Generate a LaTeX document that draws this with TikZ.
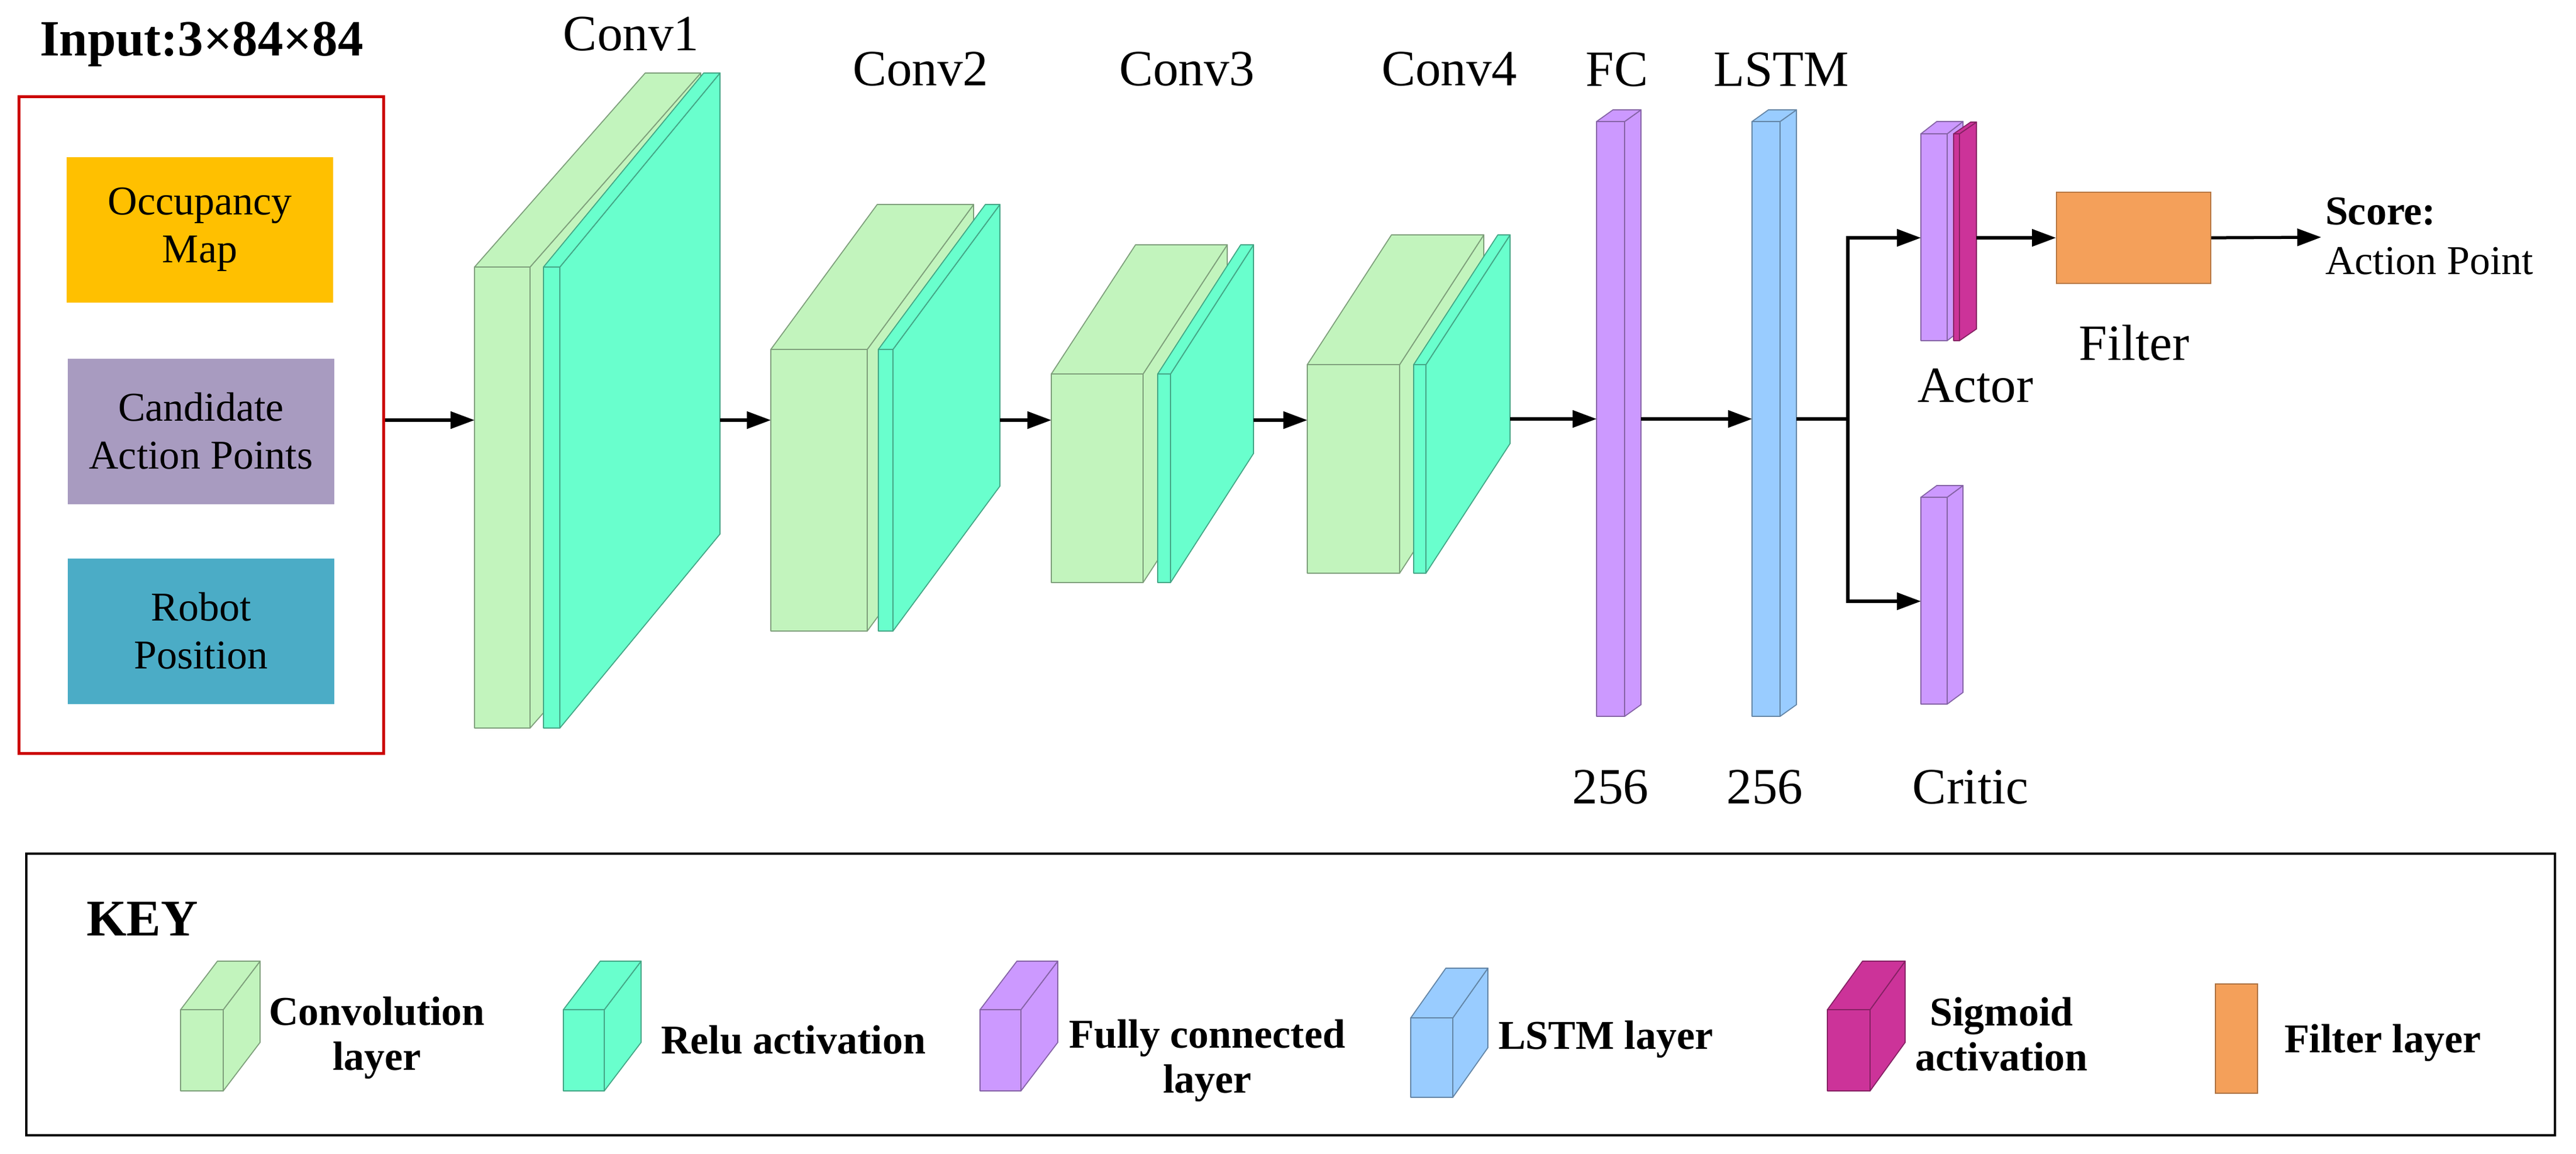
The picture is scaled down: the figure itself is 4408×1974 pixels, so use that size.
\documentclass[tikz,border=0pt]{standalone}
\usepackage{fontspec}
\setmainfont{Liberation Serif}
\usetikzlibrary{arrows.meta}
\definecolor{convg}{RGB}{194,244,189}
\definecolor{relug}{RGB}{105,255,205}
\definecolor{fcp}{RGB}{204,153,255}
\definecolor{lstmb}{RGB}{153,204,255}
\definecolor{sigm}{RGB}{204,51,153}
\definecolor{filto}{RGB}{244,160,90}
\definecolor{occy}{RGB}{255,192,0}
\definecolor{candp}{RGB}{168,155,192}
\definecolor{robb}{RGB}{75,172,198}
\definecolor{inred}{RGB}{204,0,0}
\tikzset{
  cubeface/.style={fill=#1, draw=#1!65!black, line width=0.35pt, line join=round},
  arr/.style={line width=1.05pt, -{Triangle[length=8.2pt,width=5.8pt]}},
  plainline/.style={line width=1.05pt},
  lbl/.style={font=\fontsize{17.4}{20}\selectfont, inner sep=0pt},
  keytxt/.style={font=\fontsize{14}{15.5}\selectfont\bfseries, align=center, inner sep=0pt},
  inbox/.style={minimum width=91.2pt, minimum height=49.8pt, inner sep=0pt, align=center,
     font=\fontsize{14}{16.4}\selectfont},
}
% name, x, y (front top-left), w, h, dx, dy, colour
\newcommand{\cubo}[8]{%
  \draw[cubeface=#8] (#2+#4,#3) -- ++(#6,-#7) -- ++(0,#5) -- ++(-#6,#7) -- cycle;
  \draw[cubeface=#8] (#2,#3) -- ++(#6,-#7) -- ++(#4,0) -- ++(-#6,#7) -- cycle;
  \draw[cubeface=#8] (#2,#3) rectangle ++(#4,#5);
  \coordinate (#1-w) at (#2,#3);
  \coordinate (#1-e) at (#2+#4+#6,#3-#7);
}
\begin{document}
\begin{tikzpicture}[x=0.2pt,y=-0.2pt]
\useasboundingbox[fill=white] (0,0) rectangle (4408,1974);

% ---------- input ----------
\node[anchor=base west, inner sep=0pt, font=\fontsize{17.4}{20}\selectfont\bfseries] (intitle) at (67,95) {Input:3×84×84};
\node[draw=inred, line width=1pt, minimum width=124.6pt, minimum height=224.6pt, inner sep=0pt] (inbox) at (344.5,727.5) {};
\node[inbox, fill=occy] (occ) at (342,393) {Occupancy\\Map};
\node[inbox, fill=candp] (cand) at (344,738) {Candidate\\Action Points};
\node[inbox, fill=robb] (rob) at (344,1080) {Robot\\Position};

% ---------- conv blocks ----------
\cubo{c1g}{812}{457}{95}{789}{292}{332}{convg}
\cubo{c1r}{930}{457}{28}{789}{274}{332}{relug}
\cubo{c2g}{1319}{598}{165}{482}{182}{248}{convg}
\cubo{c2r}{1503}{598}{25}{482}{183}{248}{relug}
\cubo{c3g}{1799}{640}{157}{357}{144}{221}{convg}
\cubo{c3r}{1981}{640}{22}{357}{142}{221}{relug}
\cubo{c4g}{2237}{624}{158}{357}{144}{222}{convg}
\cubo{c4r}{2419}{624}{21}{357}{144}{222}{relug}
\cubo{fc}{2732}{208}{48}{1018}{28}{20}{fcp}
\cubo{lstm}{2998}{208}{48}{1018}{28}{20}{lstmb}
\cubo{afc}{3287}{229}{45}{354}{27}{21}{fcp}
\cubo{asig}{3343}{229}{10}{354}{29}{20}{sigm}
\cubo{crit}{3287}{851}{45}{354}{27}{20}{fcp}
\node[fill=filto, draw=filto!75!black, line width=0.35pt, minimum width=52.8pt, minimum height=31.2pt, inner sep=0pt] (filt) at (3651,407) {};

% ---------- labels ----------
\node[lbl, anchor=base] (l1) at (1080,86) {Conv1};
\node[lbl, anchor=base] (l2) at (1575,146) {Conv2};
\node[lbl, anchor=base] (l3) at (2031,146) {Conv3};
\node[lbl, anchor=base] (l4) at (2480,146) {Conv4};
\node[lbl, anchor=base] (lfc) at (2767,147) {FC};
\node[lbl, anchor=base] (llstm) at (3048,147) {LSTM};
\node[lbl, anchor=base] (n1) at (2756,1375) {256};
\node[lbl, anchor=base] (n2) at (3020,1375) {256};
\node[lbl, anchor=base] (lact) at (3380,688) {Actor};
\node[lbl, anchor=base] (lcrit) at (3372,1375) {Critic};
\node[lbl, anchor=base] (lfilt) at (3652,616) {Filter};
\node[anchor=base west, inner sep=0pt, font=\fontsize{14}{16}\selectfont\bfseries] (score) at (3978,384) {Score:};
\node[anchor=base west, inner sep=0pt, font=\fontsize{14}{16}\selectfont] (apoint) at (3978,469) {Action Point};

% ---------- connectors ----------
\coordinate (row) at (0,719);
\coordinate (row2) at (0,717);
\coordinate (arow) at (0,407);
\coordinate (crow) at (0,1029);
\coordinate (split) at (3162,717);
\coordinate (scoretip) at (3972,406);
\draw[arr] (inbox.east |- row) -- (c1g-w |- row);
\draw[arr] (c1r-e |- row) -- (c2g-w |- row);
\draw[arr] (c2r-e |- row) -- (c3g-w |- row);
\draw[arr] (c3r-e |- row) -- (c4g-w |- row);
\draw[arr] (c4r-e |- row2) -- (fc-w |- row2);
\draw[arr] (fc-e |- row2) -- (lstm-w |- row2);
\draw[plainline] (lstm-e |- row2) -- (split);
\draw[arr] (split) |- (afc-w |- arow);
\draw[arr] (split) |- (crit-w |- crow);
\draw[arr] (asig-e |- filt.west) -- (filt.west);
\draw[arr] (filt.east) -- (scoretip);

% ---------- key ----------
\node[draw=black, line width=0.8pt, minimum width=865.4pt, minimum height=96.4pt, inner sep=0pt] (keybox) at (2208.5,1702) {};
\node[anchor=base west, inner sep=0pt, font=\fontsize{17.6}{20}\selectfont\bfseries] (keyt) at (147,1601) {KEY};
\cubo{kconv}{309}{1728}{73}{139}{63}{83}{convg}
\node[keytxt] (kconvt) at (645,1776) {Convolution\\layer};
\cubo{krelu}{964}{1728}{70}{139}{63}{83}{relug}
\node[keytxt, anchor=base west] (krelut) at (1130,1803) {Relu activation};
\cubo{kfc}{1677}{1728}{70}{139}{63}{83}{fcp}
\node[keytxt] (kfct) at (2066,1815) {Fully connected\\layer};
\cubo{klstm}{2414}{1742}{72}{136}{60}{85}{lstmb}
\node[keytxt, anchor=base west] (klstmt) at (2563,1795) {LSTM layer};
\cubo{ksig}{3127}{1728}{73}{139}{60}{83}{sigm}
\node[keytxt] (ksigt) at (3425,1770) {Sigmoid\\activation};
\node[fill=filto, draw=filto!70!black, line width=0.35pt, minimum width=14.4pt, minimum height=37.4pt, inner sep=0pt] (kfilt) at (3827,1777.5) {};
\node[keytxt, anchor=base west] (kfiltt) at (3908,1801) {Filter layer};
\end{tikzpicture}
\end{document}
